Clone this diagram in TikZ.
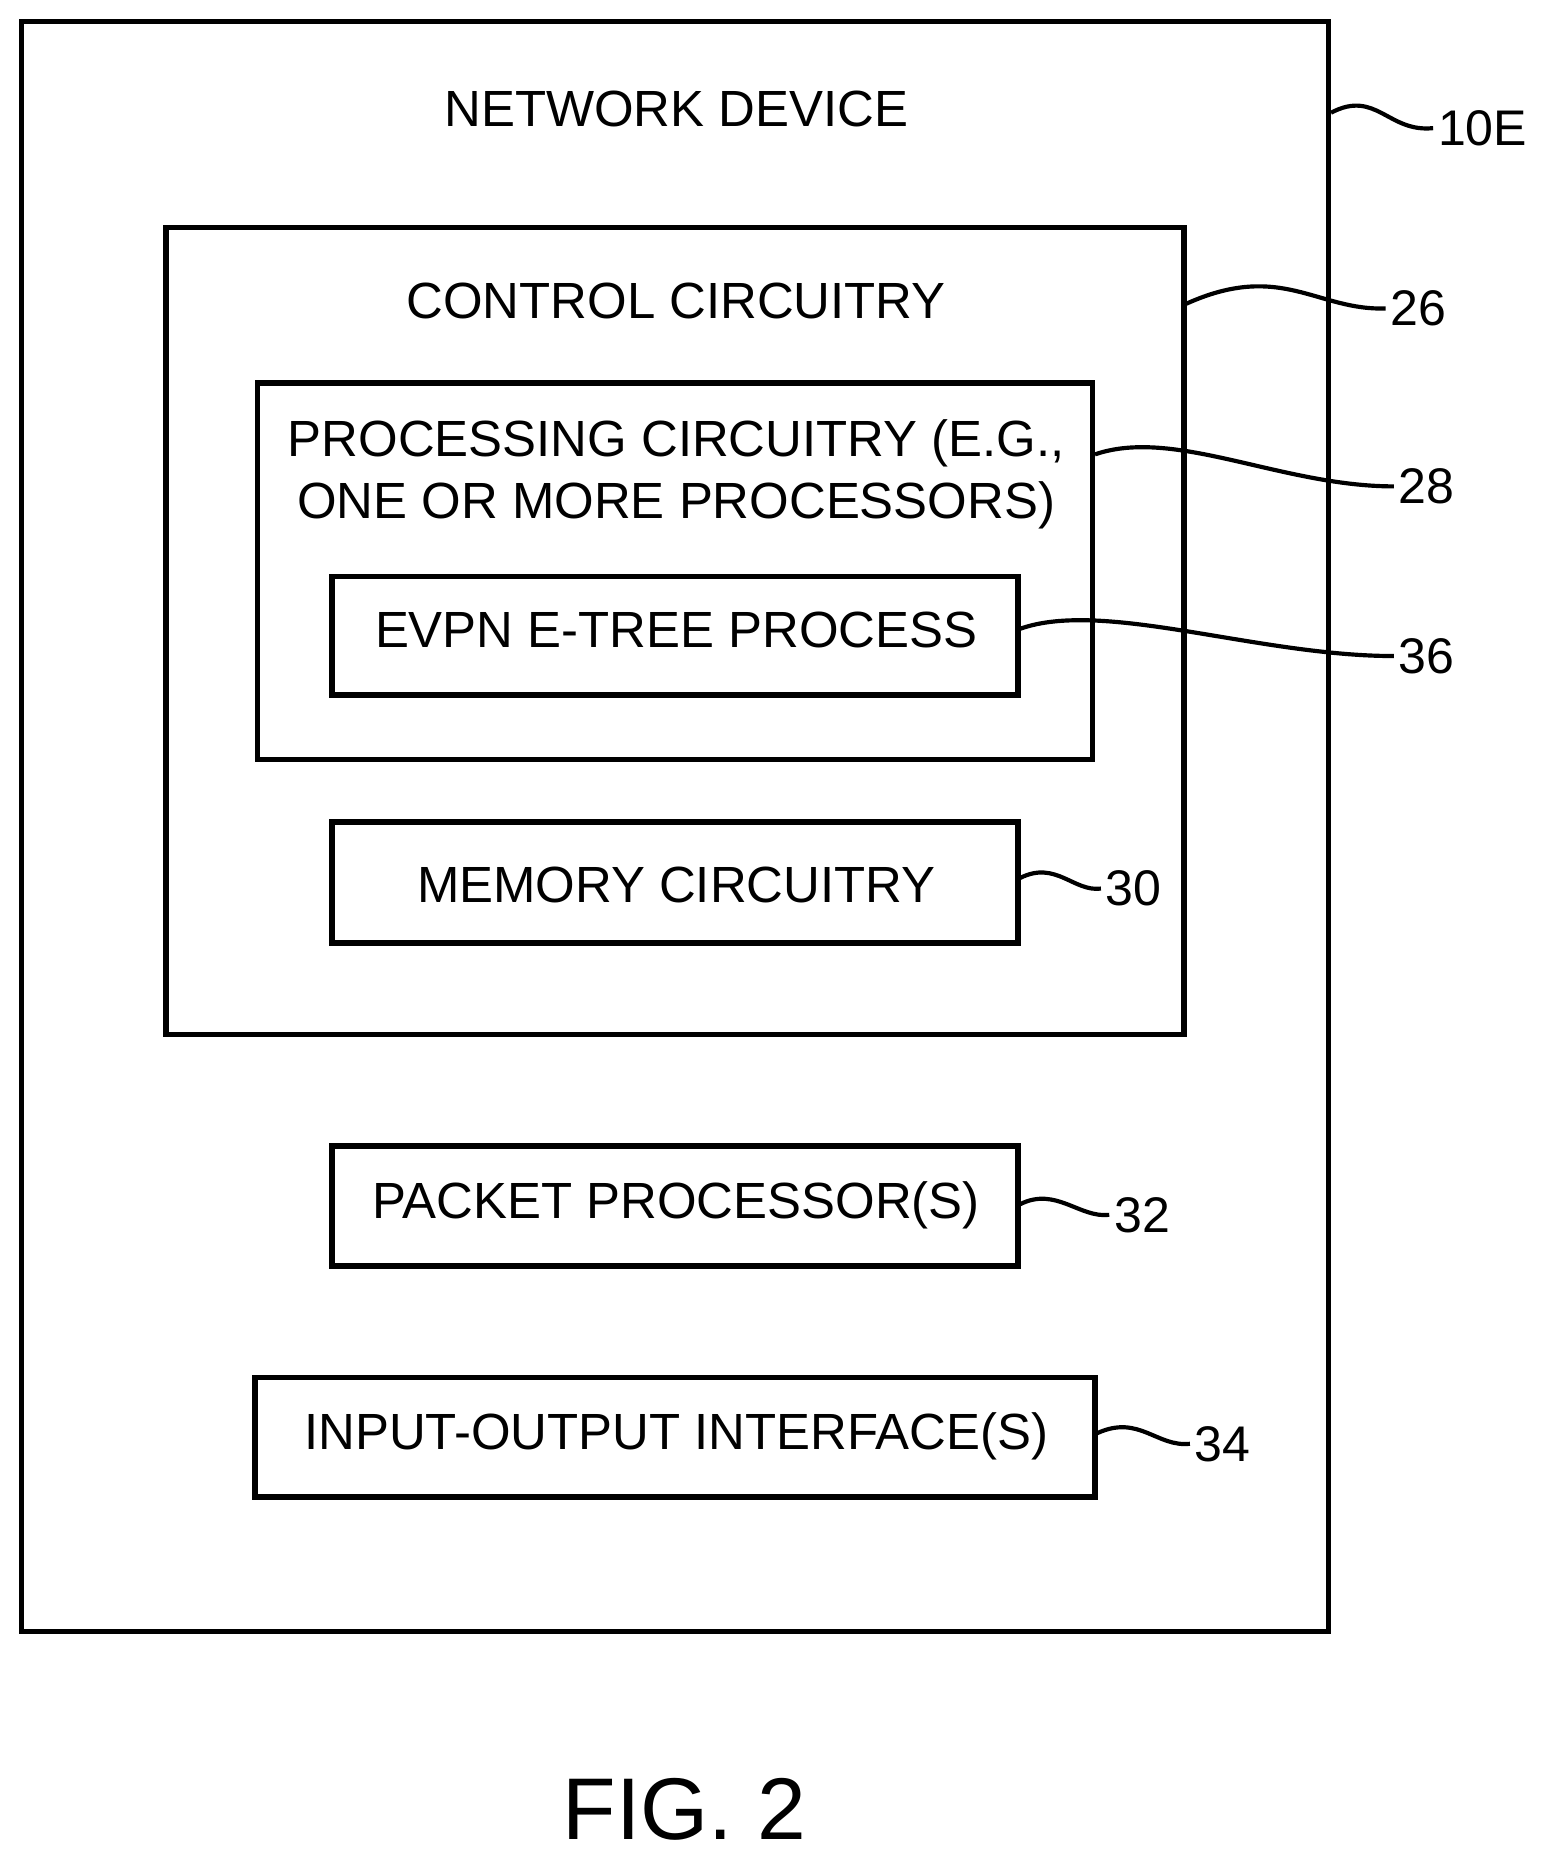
\documentclass[tikz,border=0pt]{standalone}
\usepackage{fontspec}
\setmainfont{Liberation Sans}
\begin{document}
\begin{tikzpicture}[x=0.01cm,y=-0.01cm,
  box/.style={draw,line width=1.3pt},
  txt/.style={font=\fontsize{12.2pt}{14pt}\selectfont,inner sep=0pt},
  lbl/.style={font=\fontsize{12pt}{14pt}\selectfont,inner sep=1pt,anchor=west},
  lead/.style={line width=1pt}]
\useasboundingbox (0,0) rectangle (1300,1567);
\draw[box] (18,18) rectangle (1120,1375);
\draw[box] (140,192) rectangle (998,872);
\draw[box] (217,323) rectangle (921,640);
\draw[box] (280,486) rectangle (858,586);
\draw[box] (280,693) rectangle (858,795);
\draw[box] (280,966) rectangle (858,1067);
\draw[box] (215,1161) rectangle (923,1262);
\node[txt] (nd) at (570,92) {NETWORK DEVICE};
\node[txt] (cc) at (570,254) {CONTROL CIRCUITRY};
\node[txt] (pc1) at (570,374) {PROCESSING CIRCUITRY (E.G.,};
\node[txt] (pc2) at (570,426) {ONE OR MORE PROCESSORS)};
\node[txt] (ev) at (570,531) {EVPN E-TREE PROCESS};
\node[txt] (mc) at (570,746) {MEMORY CIRCUITRY};
\node[txt] (pp) at (570,1016) {PACKET PROCESSOR(S)};
\node[txt] (io) at (570,1211) {INPUT-OUTPUT INTERFACE(S)};
\node[font=\fontsize{21pt}{24pt}\selectfont,inner sep=0pt] (fig) at (577,1525) {FIG. 2};
\node[lbl] (l10) at (1208,108) {10E};
\node[lbl] (l26) at (1168,260) {26};
\node[lbl] (l28) at (1175,410) {28};
\node[lbl] (l36) at (1175,553) {36};
\node[lbl] (l30) at (928,749) {30};
\node[lbl] (l32) at (935,1024) {32};
\node[lbl] (l34) at (1003,1217) {34};
\coordinate (a10) at (1122,95);
\coordinate (a26) at (1000,256);
\coordinate (a28) at (923,383);
\coordinate (a36) at (860,530);
\coordinate (a30) at (860,740);
\coordinate (a32) at (860,1015);
\coordinate (a34) at (925,1208);
\draw[lead] (a10) .. controls (1160,75) and (1170,112) .. (l10.west);
\draw[lead] (a26) .. controls (1080,220) and (1110,262) .. (l26.west);
\draw[lead] (a28) .. controls (990,360) and (1080,410) .. (l28.west);
\draw[lead] (a36) .. controls (930,505) and (1060,553) .. (l36.west);
\draw[lead] (a30) .. controls (890,725) and (905,752) .. (l30.west);
\draw[lead] (a32) .. controls (890,1000) and (910,1027) .. (l32.west);
\draw[lead] (a34) .. controls (960,1192) and (975,1220) .. (l34.west);
\end{tikzpicture}
\end{document}
